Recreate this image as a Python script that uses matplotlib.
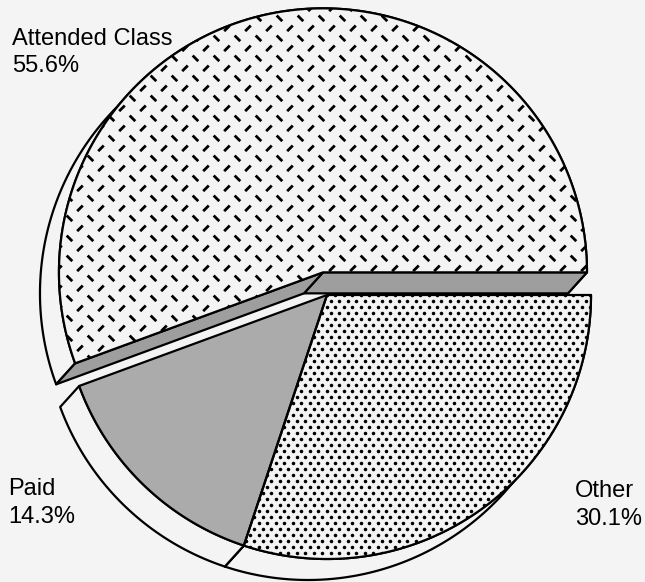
import numpy as np
import matplotlib
matplotlib.use('Agg')
import matplotlib.pyplot as plt
from matplotlib.patches import Polygon
from matplotlib.collections import LineCollection

# --- data ---
labels = ['Attended Class', 'Paid', 'Other']
shares = [55.6, 14.3, 30.1]

# --- layout (pixel coords, y grows downwards) ---
center = (327.0, 295.0)
radius = 264.0
depth = np.array([-19.0, 21.0])     # extrusion of the disc (down-left)
explode = [23.0, 0.0, 0.0]          # px along slice mid angle
label_pos = [(12, 45), (8, 495), (575, 497)]
line_gap = 27

paper = '#f4f4f4'
ink = 'black'
gray_top = '#ababab'
gray_cut = '#9e9e9e'
lw = 1.6

plt.rcParams['font.family'] = ['Liberation Sans', 'DejaVu Sans']

fig = plt.figure(figsize=(6.45, 5.82), dpi=100)
fig.patch.set_facecolor(paper)
ax = fig.add_axes([0, 0, 1, 1])
ax.set_xlim(0, 645)
ax.set_ylim(582, 0)
ax.axis('off')


def pt(c, a):
    t = np.deg2rad(a)
    return np.array([c[0] + radius * np.cos(t), c[1] - radius * np.sin(t)])


def arc(c, a1, a2):
    n = max(int(abs(a2 - a1) * 2), 2)
    return np.array([pt(c, a) for a in np.linspace(a1, a2, n)])


# slice angles, counterclockwise from east
bounds = np.concatenate([[0], np.cumsum(shares) / sum(shares) * 360])
slices = []
for i in range(len(shares)):
    a1, a2 = bounds[i], bounds[i + 1]
    mid = np.deg2rad((a1 + a2) / 2)
    c = np.array([center[0] + explode[i] * np.cos(mid),
                  center[1] - explode[i] * np.sin(mid)])
    slices.append((c, a1, a2))


def dash_texture(face, c):
    # diamond-plate style: rows of short dashes, "/" and "\" rows staggered
    step_x, step_y = 21.0, 10.0
    h = 2.8
    segs = []
    for j, y in enumerate(np.arange(c[1] - radius, c[1] + radius, step_y)):
        s = -1 if j % 2 == 0 else 1
        off = step_x / 2 if j % 2 else 0
        for x in np.arange(c[0] - radius + off, c[0] + radius, step_x):
            segs.append([(x - h, y - s * h), (x + h, y + s * h)])
    lc = LineCollection(segs, colors=ink, linewidths=2.0, capstyle='butt', zorder=3)
    ax.add_collection(lc)
    lc.set_clip_path(face)


def dot_texture(face, c):
    dx, dy = 8.5, 6.0
    pts = []
    for j, y in enumerate(np.arange(c[1] - radius, c[1] + radius, dy)):
        off = dx / 2 if j % 2 else 0
        for x in np.arange(c[0] - radius + off, c[0] + radius, dx):
            pts.append((x, y))
    pts = np.array(pts)
    sc = ax.scatter(pts[:, 0], pts[:, 1], s=6.5, c=ink, linewidths=0, zorder=3)
    sc.set_clip_path(face)


fills = [paper, gray_top, paper]
textures = [dash_texture, None, dot_texture]

# back to front: Attended, Other, Paid
for k in [0, 2, 1]:
    c, a1, a2 = slices[k]
    z = 2
    top_arc = arc(c, a1, a2)
    # outer rim
    rim = np.vstack([top_arc, (top_arc + depth)[::-1]])
    ax.add_patch(Polygon(rim, closed=True, facecolor=paper, edgecolor=ink,
                         lw=lw, joinstyle='round', zorder=z))
    # radial cut faces that face the viewer
    for a, nrm in [(a1, a1 - 90), (a2, a2 + 90)]:
        nv = np.array([np.cos(np.deg2rad(nrm)), -np.sin(np.deg2rad(nrm))])
        if nv @ depth > 0:
            p = pt(c, a)
            quad = [c, p, p + depth, c + depth]
            ax.add_patch(Polygon(quad, closed=True, facecolor=gray_cut,
                                 edgecolor=ink, lw=lw, joinstyle='round', zorder=z))
    # top face
    poly = np.vstack([[c], top_arc])
    face = Polygon(poly, closed=True, facecolor=fills[k], edgecolor='none', zorder=z)
    ax.add_patch(face)
    if textures[k] is not None:
        textures[k](face, c)
    ax.add_patch(Polygon(poly, closed=True, fill=False, edgecolor=ink,
                         lw=lw, joinstyle='round', zorder=4))

for k, (x, y) in enumerate(label_pos):
    ax.text(x, y, labels[k], fontsize=17, ha='left', va='baseline', zorder=5)
    ax.text(x, y + line_gap + (1 if k else 0), f'{shares[k]:.1f}%', fontsize=17,
            ha='left', va='baseline', zorder=5)

fig.savefig('out.png', dpi=100, facecolor=fig.get_facecolor())
